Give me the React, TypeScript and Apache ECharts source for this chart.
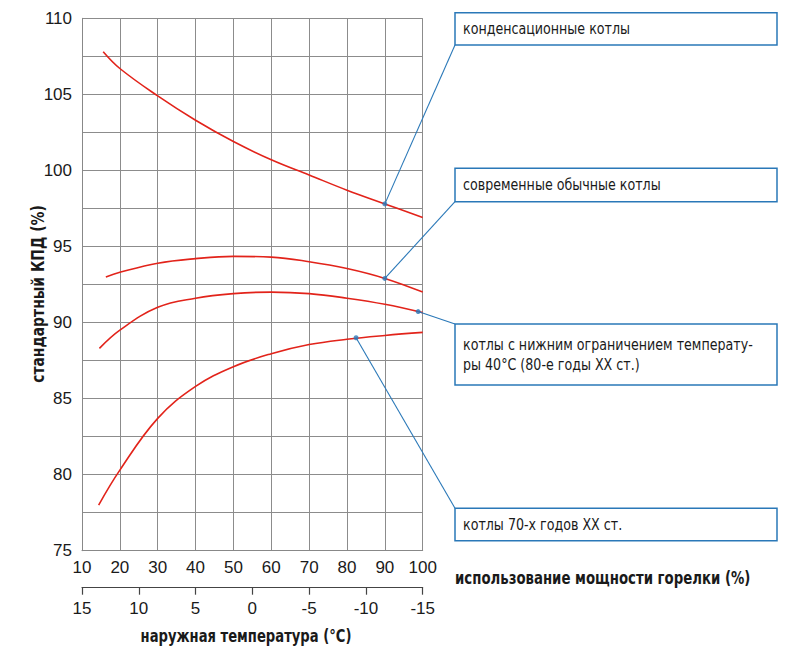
import React, { useEffect, useRef } from "react";
import * as echarts from "echarts";

// burner load (%) vs standard efficiency (%)
const condensing = [[15.6, 107.8], [20, 106.7], [30, 104.9], [40, 103.3], [50, 101.9], [60, 100.7], [70, 99.7], [80, 98.7], [90, 97.8], [100, 96.9]];
const modern = [[16.3, 93.0], [20, 93.3], [30, 93.9], [40, 94.2], [50, 94.35], [60, 94.3], [70, 94.0], [80, 93.55], [90, 92.9], [100, 92.0]];
const limit40 = [[14.6, 88.3], [20, 89.5], [30, 91.0], [40, 91.6], [50, 91.9], [60, 92.0], [70, 91.9], [80, 91.6], [90, 91.2], [100, 90.65]];
const seventies = [[14.4, 78.0], [20, 80.3], [30, 83.7], [40, 85.8], [50, 87.1], [60, 87.95], [70, 88.55], [80, 88.9], [90, 89.15], [100, 89.35]];
const dots = [[90, 97.8], [90, 92.9], [98.8, 90.72], [82.4, 89.0]];
const labels = [
  "конденсационные котлы",
  "современные обычные котлы",
  "котлы с нижним ограничением температу-\nры 40°C (80-е годы XX ст.)",
  "котлы 70-х годов XX ст.",
];
const loadTitle = "использование мощности горелки (%)";
const tempTitle = "наружная температура (°C)";
const effTitle = "стандартный КПД (%)";

const NARROW = "'Liberation Sans Narrow', 'DejaVu Sans Condensed', 'Arial Narrow', sans-serif";
const SANS = "'Liberation Sans', Arial, sans-serif";
const RED = "#e2231a";
const BLUE = "#2a78b8";

const boxes = [
  { x: 455, y: 12.7, w: 322, h: 32.3, ax: 455, ay: 45 },
  { x: 455, y: 168.3, w: 322, h: 33.4, ax: 455, ay: 201.7 },
  { x: 455, y: 324, w: 322, h: 61, ax: 455, ay: 324 },
  { x: 455, y: 508.3, w: 322, h: 32.4, ax: 455, ay: 508.3 },
];

export default function App() {
  const ref = useRef<HTMLDivElement>(null);
  useEffect(() => {
    if (!ref.current) return;
    const chart = echarts.init(ref.current, undefined, { renderer: "svg" });
    const lineSeries = (data: number[][]) => ({
      type: "line",
      data,
      smooth: 0.4,
      showSymbol: false,
      lineStyle: { color: RED, width: 1.6 },
      z: 3,
    });
    chart.setOption({
      animation: false,
      backgroundColor: "#ffffff",
      grid: { left: 82, top: 18.3, right: 377.3, bottom: 119.3 },
      xAxis: [
        {
          type: "value",
          min: 10,
          max: 100,
          interval: 10,
          position: "bottom",
          axisLine: { show: true, onZero: false, lineStyle: { color: "#888", width: 1 } },
          axisTick: { show: false },
          axisLabel: { fontSize: 17, color: "#1a1a1a", fontFamily: SANS, margin: 8 },
          splitLine: { show: true, lineStyle: { color: "#8c8c8c", width: 1 } },
        },
        {
          type: "value",
          min: -15,
          max: 15,
          interval: 5,
          inverse: true,
          position: "bottom",
          offset: 37,
          axisLine: { show: true, onZero: false, lineStyle: { color: "#444", width: 1.2 } },
          axisTick: { show: true, length: 7, lineStyle: { color: "#444", width: 1.2 } },
          axisLabel: { fontSize: 17, color: "#1a1a1a", fontFamily: SANS, margin: 12 },
          splitLine: { show: false },
        },
      ],
      yAxis: {
        type: "value",
        min: 75,
        max: 110,
        interval: 2.5,
        axisLine: { show: true, onZero: false, lineStyle: { color: "#888", width: 1 } },
        axisTick: { show: false },
        axisLabel: {
          fontSize: 17,
          color: "#1a1a1a",
          fontFamily: SANS,
          margin: 10,
          formatter: (v: number) => (v % 5 === 0 ? String(v) : ""),
        },
        splitLine: { show: true, lineStyle: { color: "#8c8c8c", width: 1 } },
      },
      series: [
        lineSeries(condensing),
        lineSeries(modern),
        lineSeries(limit40),
        lineSeries(seventies),
        {
          type: "scatter",
          data: dots,
          symbolSize: 5,
          itemStyle: { color: BLUE },
          z: 5,
        },
      ],
    });

    const graphic: any[] = [];
    boxes.forEach((b, i) => {
      const p = chart.convertToPixel({ xAxisIndex: 0, yAxisIndex: 0 }, dots[i]) as number[];
      graphic.push({
        type: "line",
        shape: { x1: b.ax, y1: b.ay, x2: p[0], y2: p[1] },
        style: { stroke: BLUE, lineWidth: 1.1 },
        z: 4,
      });
      graphic.push({
        type: "rect",
        shape: { x: b.x, y: b.y, width: b.w, height: b.h },
        style: { fill: "#ffffff", stroke: BLUE, lineWidth: 1.5 },
        z: 5,
      });
      graphic.push({
        type: "text",
        x: b.x + 8,
        y: b.y + b.h / 2,
        scaleX: 0.88,
        style: {
          text: labels[i],
          fill: "#1a1a1a",
          fontSize: 16,
          fontFamily: NARROW,
          lineHeight: 20.6,
          verticalAlign: "middle",
          align: "left",
        },
        z: 6,
      });
    });
    graphic.push({
      type: "text",
      x: 455,
      y: 578,
      scaleX: 0.87,
      style: {
        text: loadTitle,
        fill: "#1a1a1a",
        fontSize: 17,
        fontWeight: "bold",
        fontFamily: NARROW,
        verticalAlign: "middle",
        align: "left",
      },
    });
    graphic.push({
      type: "text",
      x: 246,
      y: 636,
      scaleX: 0.86,
      style: {
        text: tempTitle,
        fill: "#1a1a1a",
        fontSize: 17,
        fontWeight: "bold",
        fontFamily: NARROW,
        verticalAlign: "middle",
        align: "center",
      },
    });
    graphic.push({
      type: "text",
      x: 38,
      y: 294,
      rotation: Math.PI / 2,
      scaleX: 0.91,
      style: {
        text: effTitle,
        fill: "#1a1a1a",
        fontSize: 17,
        fontWeight: "bold",
        fontFamily: NARROW,
        verticalAlign: "middle",
        align: "center",
      },
    });
    chart.setOption({ graphic });

    return () => chart.dispose();
  }, []);
  return (
    <div
      ref={ref}
      style={{ position: "fixed", left: 0, top: 0, width: 800, height: 670, background: "#fff" }}
    />
  );
}
